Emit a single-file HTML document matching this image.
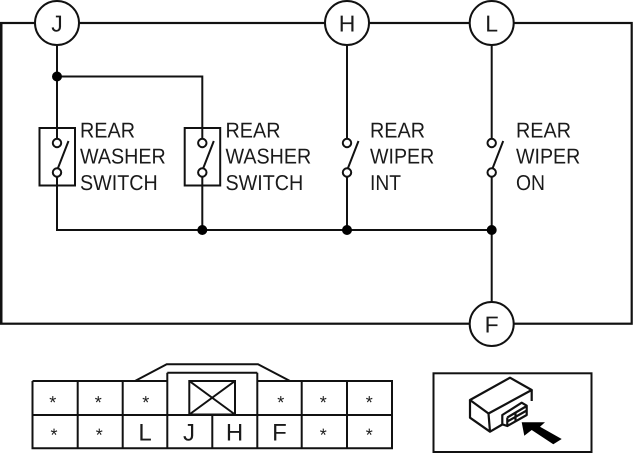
<!DOCTYPE html>
<html>
<head>
<meta charset="utf-8">
<style>
html,body{margin:0;padding:0;background:#fff;width:633px;height:453px;overflow:hidden}
svg{display:block}
text{font-family:"Liberation Sans",Arial,sans-serif;fill:#1a1a1a;text-rendering:geometricPrecision}
</style>
</head>
<body>
<svg width="633" height="453" viewBox="0 0 633 453" xmlns="http://www.w3.org/2000/svg">
<g fill="none" stroke="#111" stroke-width="2">
  <rect x="1" y="23" width="630.7" height="300.7" stroke-width="2.2"/>
  <path d="M1 23V324" stroke-width="3"/>
  <path d="M57 23V143M57 172.5V230H491.7M57 76.5H202.3V143M202.3 172.5V230M347 23V143M347 172.5V230M491.7 23V143M491.7 172.5V324"/>
  <rect x="39.5" y="128" width="35.5" height="57.5"/>
  <rect x="184.7" y="128" width="35.5" height="57.5"/>
</g>
<g fill="#fff" stroke="#111" stroke-width="2">
  <circle cx="57" cy="23" r="22"/>
  <circle cx="347" cy="23" r="22"/>
  <circle cx="491.7" cy="23" r="22"/>
  <circle cx="491.7" cy="324" r="22"/>
  <circle cx="57" cy="143" r="4.2"/><circle cx="57" cy="172.5" r="4.2"/>
  <circle cx="202.3" cy="143" r="4.2"/><circle cx="202.3" cy="172.5" r="4.2"/>
  <circle cx="347" cy="143" r="4.2"/><circle cx="347" cy="172.5" r="4.2"/>
  <circle cx="491.7" cy="143" r="4.2"/><circle cx="491.7" cy="172.5" r="4.2"/>
</g>
<g fill="none" stroke="#111" stroke-width="2">
  <path d="M68.5 141L58 168M213.8 141L203.3 168M358.5 141L348 168M503.2 141L492.7 168"/>
</g>
<g fill="#000">
  <circle cx="57" cy="76.5" r="5"/>
  <circle cx="202.3" cy="230" r="5"/>
  <circle cx="347" cy="230" r="5"/>
  <circle cx="491.7" cy="230" r="5"/>
</g>
<g font-size="23" text-anchor="middle">
  <text x="57" y="31.5">J</text>
  <text x="347" y="31.5">H</text>
  <text x="491.7" y="31.5">L</text>
  <text x="491.7" y="332.5">F</text>
</g>
<g font-size="21.5">
  <text x="80" y="137.5" textLength="55" lengthAdjust="spacingAndGlyphs">REAR</text>
  <text x="80" y="163.5" textLength="85.7" lengthAdjust="spacingAndGlyphs">WASHER</text>
  <text x="80" y="190" textLength="77.7" lengthAdjust="spacingAndGlyphs">SWITCH</text>
  <text x="225.5" y="137.5" textLength="55" lengthAdjust="spacingAndGlyphs">REAR</text>
  <text x="225.5" y="163.5" textLength="85.7" lengthAdjust="spacingAndGlyphs">WASHER</text>
  <text x="225.5" y="190" textLength="77.7" lengthAdjust="spacingAndGlyphs">SWITCH</text>
  <text x="370" y="137.5" textLength="55" lengthAdjust="spacingAndGlyphs">REAR</text>
  <text x="370" y="163.5" textLength="64.3" lengthAdjust="spacingAndGlyphs">WIPER</text>
  <text x="370" y="190" textLength="31" lengthAdjust="spacingAndGlyphs">INT</text>
  <text x="516" y="137.5" textLength="55" lengthAdjust="spacingAndGlyphs">REAR</text>
  <text x="516" y="163.5" textLength="64.3" lengthAdjust="spacingAndGlyphs">WIPER</text>
  <text x="516" y="190" textLength="29" lengthAdjust="spacingAndGlyphs">ON</text>
</g>
<g fill="none" stroke="#111" stroke-width="2">
  <path d="M32.5 381H167.3M257.3 381H392V448.3H32.5V381"/>
  <path d="M32.5 415H392"/>
  <path d="M77.7 381V448.3M122.7 381V448.3M167.3 372.7V448.3M257.3 372.7V448.3M301.7 381V448.3M347 381V448.3M212.3 415V448.3"/>
  <path d="M167.3 372.7H257.3"/>
  <path d="M135 381L166.7 364.3H258L290 381"/>
  <rect x="189.3" y="381" width="45.7" height="33.5"/>
  <path d="M189.3 414.5L235 381M189.3 381L235 414.5"/>
</g>
<g font-size="18" text-anchor="middle">
  <text x="52.7" y="408.5">*</text><text x="98.3" y="408.5">*</text><text x="145.7" y="408.5">*</text>
  <text x="280.7" y="408.5">*</text><text x="323.3" y="408.5">*</text><text x="369.3" y="408.5">*</text>
  <text x="54" y="441">*</text><text x="99.3" y="441">*</text>
  <text x="323.3" y="441">*</text><text x="369.3" y="441">*</text>
</g>
<g font-size="24" text-anchor="middle">
  <text x="145" y="440.5">L</text>
  <text x="189" y="440.5">J</text>
  <text x="234.5" y="440.5">H</text>
  <text x="279.5" y="440.5">F</text>
</g>
<rect x="433.5" y="373.3" width="158" height="78.7" fill="none" stroke="#111" stroke-width="2"/>
<g fill="none" stroke="#111" stroke-width="2.2" stroke-linejoin="round">
  <path d="M470 400L510 377.7L531.7 390L488.5 413.5Z"/>
  <path d="M470 400V417.7L490 431.7L502.3 424.5M488.5 413.5L490 431.7M531.7 390V401"/>
  <path d="M502.3 415L521.7 402.7L526.7 405.7V415L507.3 426L502.3 424.3Z"/>
  <path d="M507.3 417.5V426M507.3 417.5L526.7 406M507.3 421.5L526.7 410.5M515.5 412.5V421.5"/>
</g>
<path d="M521.7 422.3H545L540 426.7L561.7 439L553.3 444.3L531.7 430L524.3 435.7Z" fill="#000"/>
</svg>
</body>
</html>
